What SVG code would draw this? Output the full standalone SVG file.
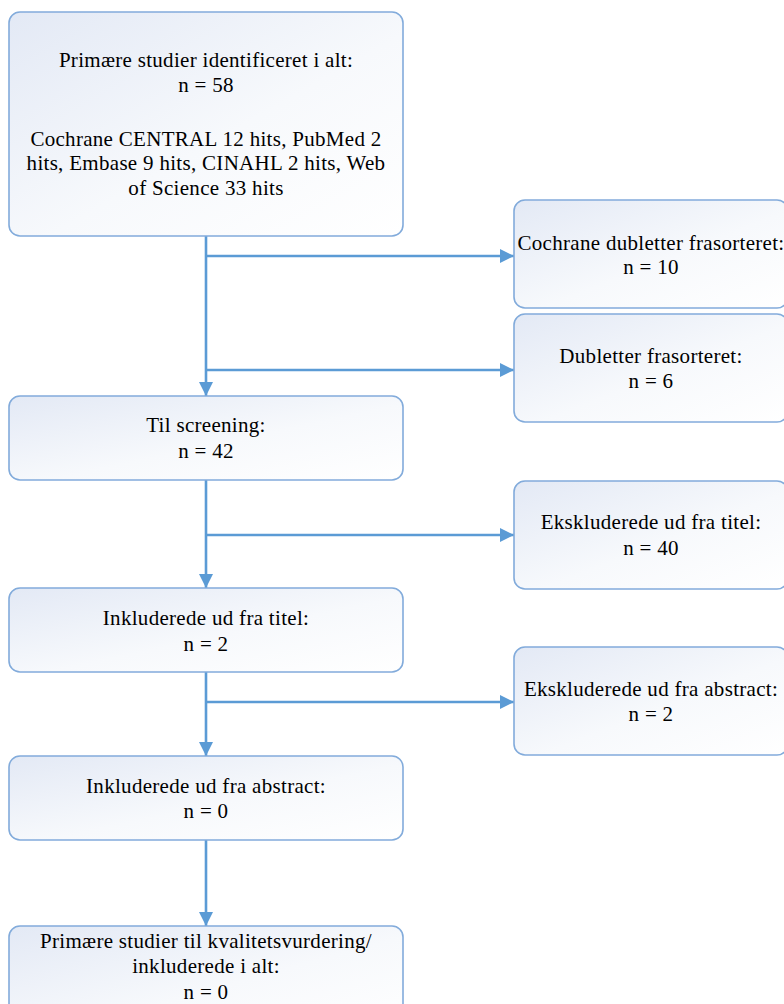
<svg xmlns="http://www.w3.org/2000/svg" width="784" height="1004" viewBox="0 0 784 1004">
  <defs>
    <linearGradient id="boxFill" x1="0" y1="0" x2="1" y2="1">
      <stop offset="0" stop-color="#e3e9f5"/>
      <stop offset="0.55" stop-color="#f7f9fc"/>
      <stop offset="1" stop-color="#ffffff"/>
    </linearGradient>
    <marker id="arrow" markerUnits="userSpaceOnUse" markerWidth="15" markerHeight="15" refX="14" refY="7.5" orient="auto">
      <path d="M0,0.5 L14,7.5 L0,14.5 Z" fill="#5b9bd5"/>
    </marker>
  </defs>
  <style>
    .box { fill: url(#boxFill); stroke: #82abdb; stroke-width: 1.6; }
    .lbl { font-family: "Liberation Serif", "Times New Roman", serif; font-size: 21px; letter-spacing: 0.3px; fill: #000; text-anchor: middle; }
    .conn { stroke: #5b9bd5; stroke-width: 2.6; fill: none; }
  </style>
  <rect width="784" height="1004" fill="#ffffff"/>

  <g id="connectors">
    <path class="conn" d="M206,236 L206,396" marker-end="url(#arrow)"/>
    <path class="conn" d="M206,256 L514,256" marker-end="url(#arrow)"/>
    <path class="conn" d="M206,370 L514,370" marker-end="url(#arrow)"/>
    <path class="conn" d="M206,480 L206,588" marker-end="url(#arrow)"/>
    <path class="conn" d="M206,535 L514,535" marker-end="url(#arrow)"/>
    <path class="conn" d="M206,672 L206,756" marker-end="url(#arrow)"/>
    <path class="conn" d="M206,702 L514,702" marker-end="url(#arrow)"/>
    <path class="conn" d="M206,840 L206,926" marker-end="url(#arrow)"/>
  </g>

  <g id="node-identified">
    <rect class="box" x="9" y="12" width="394" height="224" rx="11"/>
    <text class="lbl" x="206" y="67">Primære studier identificeret i alt:</text>
    <text class="lbl" x="206" y="92">n = 58</text>
    <text class="lbl" x="206" y="146">Cochrane CENTRAL 12 hits, PubMed 2</text>
    <text class="lbl" x="206" y="170">hits, Embase 9 hits, CINAHL 2 hits, Web</text>
    <text class="lbl" x="206" y="195">of Science 33 hits</text>
  </g>

  <g id="node-cochrane-dup">
    <rect class="box" x="514" y="200" width="274" height="108" rx="11"/>
    <text class="lbl" x="651" y="250">Cochrane dubletter frasorteret:</text>
    <text class="lbl" x="651" y="274">n = 10</text>
  </g>

  <g id="node-dup">
    <rect class="box" x="514" y="314" width="274" height="108" rx="11"/>
    <text class="lbl" x="651" y="363">Dubletter frasorteret:</text>
    <text class="lbl" x="651" y="388">n = 6</text>
  </g>

  <g id="node-screening">
    <rect class="box" x="9" y="396" width="394" height="84" rx="11"/>
    <text class="lbl" x="206" y="432">Til screening:</text>
    <text class="lbl" x="206" y="458">n = 42</text>
  </g>

  <g id="node-excl-title">
    <rect class="box" x="514" y="481" width="274" height="108" rx="11"/>
    <text class="lbl" x="651" y="529">Ekskluderede ud fra titel:</text>
    <text class="lbl" x="651" y="555">n = 40</text>
  </g>

  <g id="node-incl-title">
    <rect class="box" x="9" y="588" width="394" height="84" rx="11"/>
    <text class="lbl" x="206" y="625">Inkluderede ud fra titel:</text>
    <text class="lbl" x="206" y="651">n = 2</text>
  </g>

  <g id="node-excl-abstract">
    <rect class="box" x="514" y="647" width="274" height="108" rx="11"/>
    <text class="lbl" x="651" y="696">Ekskluderede ud fra abstract:</text>
    <text class="lbl" x="651" y="721">n = 2</text>
  </g>

  <g id="node-incl-abstract">
    <rect class="box" x="9" y="756" width="394" height="84" rx="11"/>
    <text class="lbl" x="206" y="793">Inkluderede ud fra abstract:</text>
    <text class="lbl" x="206" y="818">n = 0</text>
  </g>

  <g id="node-final">
    <rect class="box" x="9" y="926" width="394" height="108" rx="11"/>
    <text class="lbl" x="206" y="948">Primære studier til kvalitetsvurdering/</text>
    <text class="lbl" x="206" y="973">inkluderede i alt:</text>
    <text class="lbl" x="206" y="999">n = 0</text>
  </g>
</svg>
